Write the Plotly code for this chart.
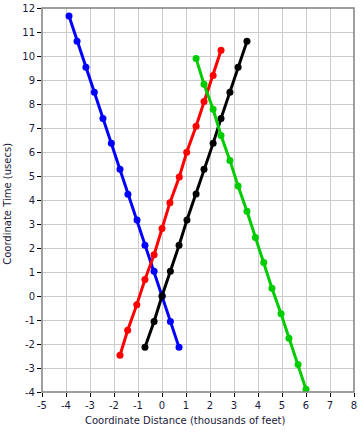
import plotly.graph_objects as go

blue_x = [0.71, 0.35, 0.01, -0.33, -0.71, -1.04, -1.42, -1.75, -2.11, -2.46, -2.82, -3.17, -3.54, -3.875]
blue_y = [-2.14, -1.06, 0.0, 1.03, 2.11, 3.17, 4.24, 5.28, 6.36, 7.40, 8.49, 9.53, 10.61, 11.67]

red_x = [-1.75, -1.43, -1.05, -0.71, -0.33, 0.0, 0.33, 0.72, 1.03, 1.42, 1.75, 2.13, 2.46]
red_y = [-2.47, -1.43, -0.36, 0.69, 1.72, 2.81, 3.89, 4.96, 5.99, 7.07, 8.10, 9.19, 10.24]

black_x = [-0.71, -0.33, 0.0, 0.35, 0.71, 1.04, 1.42, 1.75, 2.13, 2.46, 2.83, 3.17, 3.54]
black_y = [-2.14, -1.06, 0.0, 1.03, 2.11, 3.17, 4.25, 5.28, 6.36, 7.40, 8.49, 9.53, 10.61]

green_x = [1.42, 1.75, 2.13, 2.46, 2.83, 3.17, 3.54, 3.89, 4.24, 4.58, 4.96, 5.29, 5.67, 6.0]
green_y = [9.90, 8.82, 7.78, 6.69, 5.65, 4.58, 3.53, 2.44, 1.40, 0.32, -0.74, -1.76, -2.85, -3.89]

x_ticks = list(range(-5, 9))
y_ticks = list(range(-4, 13))

x_title = "Coordinate Distance (thousands of feet)"
y_title = "Coordinate Time (usecs)"

series = [
    (blue_x, blue_y, "#0000ff"),
    (red_x, red_y, "#ff0000"),
    (black_x, black_y, "#000000"),
    (green_x, green_y, "#00cc00"),
]

fig = go.Figure()
for xs, ys, c in series:
    fig.add_trace(go.Scatter(x=xs, y=ys, mode="lines+markers",
                             line=dict(color=c, width=3),
                             marker=dict(color=c, size=7),
                             showlegend=False, hoverinfo="skip"))

txt = "#1a1a3a"
font = dict(family="DejaVu Sans", size=10, color=txt)
fig.update_layout(
    width=364, height=432,
    margin=dict(l=42, r=10, t=8, b=40, autoexpand=False),
    paper_bgcolor="white", plot_bgcolor="white",
    font=font,
    shapes=[dict(type="rect", xref="paper", yref="paper", x0=0, y0=0, x1=1, y1=1,
                 line=dict(color="#808080", width=1.5), layer="above")],
    annotations=[
        dict(text=x_title, xref="paper", yref="paper", x=0.458, y=-0.073,
             xanchor="center", yanchor="middle", showarrow=False,
             font=dict(family="DejaVu Sans", size=10, color=txt)),
        dict(text=y_title, xref="paper", yref="paper", x=-0.109, y=0.49,
             xanchor="center", yanchor="middle", showarrow=False, textangle=-90,
             font=dict(family="DejaVu Sans", size=10, color=txt)),
    ],
)
fig.update_xaxes(range=[-5, 8], tickvals=x_ticks, ticktext=[str(v) for v in x_ticks],
                 showgrid=True, gridcolor="#cccccc", gridwidth=1, automargin=False,
                 ticks="outside", ticklen=4, tickcolor="black",
                 zeroline=False, showline=False)
fig.update_yaxes(range=[-4, 12], tickvals=y_ticks, ticktext=[str(v) for v in y_ticks],
                 showgrid=True, gridcolor="#cccccc", gridwidth=1, automargin=False,
                 ticks="outside", ticklen=4, tickcolor="black",
                 zeroline=False, showline=False)

fig.write_html("out.html", config={"displayModeBar": False},
               post_script="document.body.style.margin='0px';")
